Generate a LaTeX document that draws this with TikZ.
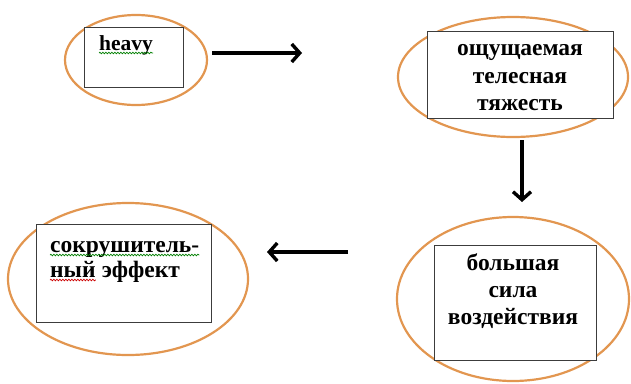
\documentclass[tikz,border=0pt]{standalone}
\usepackage{fontspec}
\setmainfont{Liberation Serif}
\usetikzlibrary{arrows.meta,decorations.pathmorphing}
\definecolor{ovalorange}{RGB}{226,150,80}
\definecolor{boxgrey}{RGB}{60,60,60}
\tikzset{
  oval/.style={ovalorange, line width=2.2pt},
  wordbox/.style={draw=boxgrey, line width=1pt, fill=white, inner sep=0pt},
  word/.style={font=\fontsize{23.5}{28}\selectfont\bfseries, inner sep=0pt},
  flow/.style={line width=3.4pt, -{Straight Barb[length=8pt,width=18pt]}},
  squiggle/.style={line width=0.7pt, decorate, decoration={snake,amplitude=0.8pt,segment length=3pt}}
}

\begin{document}
\begin{tikzpicture}[x=1pt,y=-1pt]
\useasboundingbox (0,0) rectangle (631,383);
% ovals
\draw[oval] (136,60) ellipse [x radius=71, y radius=45];
\draw[oval] (513,77) ellipse [x radius=115, y radius=60];
\draw[oval] (513,299) ellipse [x radius=116, y radius=82];
\draw[oval] (128,279) ellipse [x radius=120, y radius=76];
% boxes
\node[wordbox, minimum width=99pt, minimum height=60pt] (b1) at (133.5,57) {};
\node[wordbox, minimum width=186pt, minimum height=87pt] (b2) at (520,74.5) {};
\node[wordbox, minimum width=162pt, minimum height=115pt] (b3) at (515,302.5) {};
\node[wordbox, minimum width=175pt, minimum height=98pt] (b4) at (123.5,273) {};
% texts
\node[word, font=\fontsize{21.5}{26}\selectfont\bfseries, anchor=base west] (heavy) at (99,50) {heavy};
\node[word, anchor=base] (t2a) at (520,55) {ощущаемая};
\node[word, anchor=base] (t2b) at (520,83) {телесная};
\node[word, anchor=base] (t2c) at (520,110) {тяжесть};
\node[word, anchor=base] (t3a) at (513,270) {большая};
\node[word, anchor=base] (t3b) at (513,297) {сила};
\node[word, anchor=base] (t3c) at (513,324) {воздействия};
\node[word, anchor=base west] (t4a) at (50,252) {сокрушитель-};
\node[word, anchor=base west] (t4b) at (50,277) {ный};
\node[word, anchor=base west] (t4c) at (t4b.base east) {\ эффект};
% spelling marks
\draw[squiggle, green!50!black] ([yshift=-3pt]heavy.base west) -- ([yshift=-3pt]heavy.base east);
\draw[squiggle, green!50!black] ([yshift=-3pt]t4a.base west) -- ([yshift=-3pt]t4a.base east);
\draw[squiggle, red!80!black] ([yshift=-3pt]t4b.base west) -- ([yshift=-3pt]t4b.base east);
% arrows
\coordinate (a1) at (212,53);
\coordinate (a2) at (302,53);
\coordinate (d1) at (522,140);
\coordinate (d2) at (522,202);
\coordinate (l1) at (348,252);
\coordinate (l2) at (267,252);
\draw[flow] (a1) -- (a2);
\draw[flow] (d1) -- (d2);
\draw[flow] (l1) -- (l2);
\end{tikzpicture}
\end{document}
